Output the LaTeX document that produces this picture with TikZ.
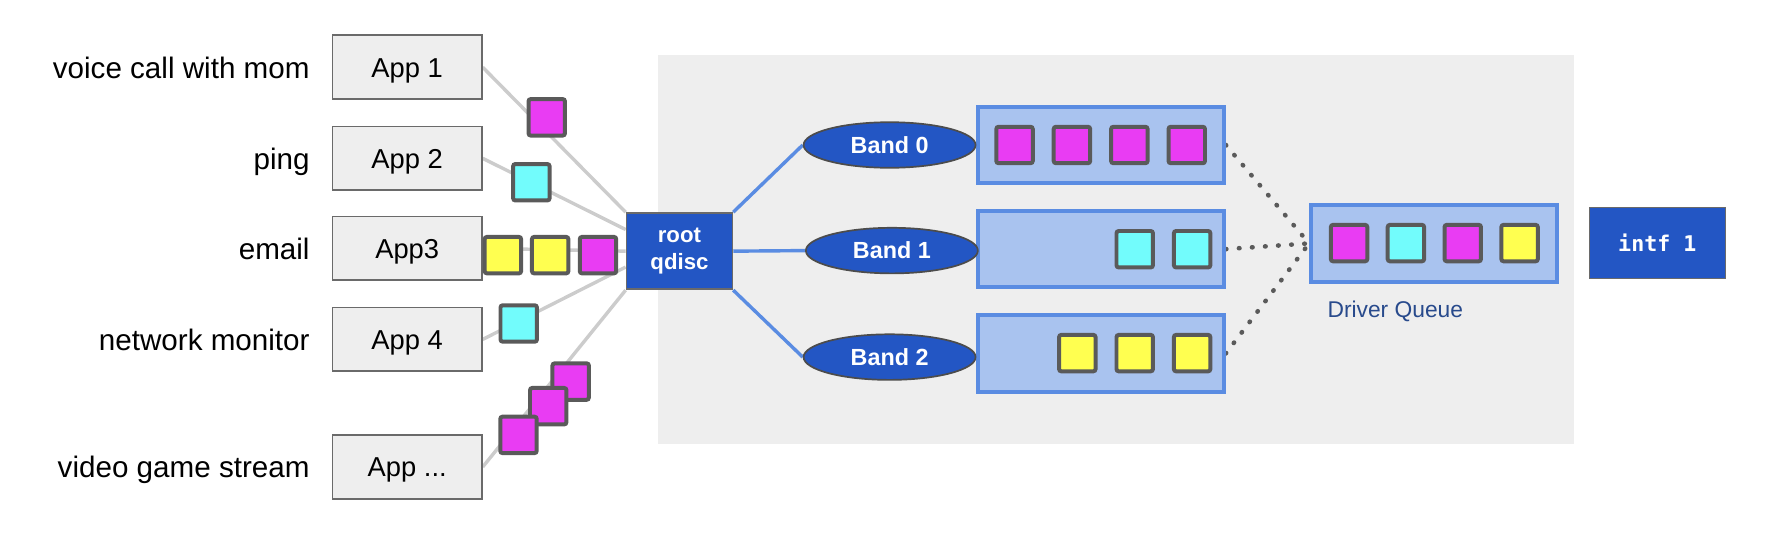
\documentclass[tikz,border=0pt]{standalone}
\usepackage{fontspec}
\setmainfont{Liberation Sans}
\newfontfamily\intffont{DejaVu Sans Mono}
\usetikzlibrary{shapes.geometric,backgrounds,calc}

\definecolor{pmag}{HTML}{E93CF3}
\definecolor{pcyan}{HTML}{72FCFC}
\definecolor{pyel}{HTML}{FFFF50}
\definecolor{pktline}{HTML}{5A5A5A}
\definecolor{boxgray}{HTML}{EEEEEE}
\definecolor{boxline}{HTML}{6A6A6A}
\definecolor{bggray}{HTML}{EEEEEE}
\definecolor{qdblue}{HTML}{2356C4}
\definecolor{qfill}{HTML}{A9C3EF}
\definecolor{qline}{HTML}{5A8CE2}
\definecolor{wiregray}{HTML}{CCCCCC}
\definecolor{dotgray}{HTML}{5A5A5A}
\definecolor{dqtext}{HTML}{284A8C}

\tikzset{
  applabel/.style = {anchor=east, inner sep=0pt, text height=19pt, text depth=0pt,
                     font=\fontsize{26}{30}\selectfont},
  appbox/.style   = {draw=boxline, fill=boxgray, line width=1.5pt,
                     minimum width=131pt, minimum height=56pt,
                     text height=17.5pt, text depth=0pt,
                     font=\fontsize{24}{28}\selectfont},
  rootbox/.style  = {draw=boxline, fill=qdblue, line width=1.5pt, text=white,
                     minimum width=93pt, minimum height=67pt, align=center,
                     font=\bfseries\fontsize{19.5}{23.5}\selectfont},
  band/.style     = {ellipse, draw=black!70, fill=qdblue, line width=1.5pt,
                     text=white, inner sep=0pt,
                     minimum width=151pt, minimum height=40pt,
                     font=\bfseries\fontsize{20.5}{24}\selectfont},
  queue/.style    = {draw=qline, fill=qfill, line width=3.4pt,
                     minimum width=216pt, minimum height=67pt, inner sep=0pt},
  pkt/.style      = {draw=pktline, line width=3.5pt, rounded corners=2pt,
                     minimum size=32pt, inner sep=0pt},
  magpkt/.style   = {pkt, fill=pmag},
  cyanpkt/.style  = {pkt, fill=pcyan},
  yelpkt/.style   = {pkt, fill=pyel},
  intfbox/.style  = {draw=boxline, fill=qdblue, line width=1pt, text=white,
                     minimum width=119pt, minimum height=62pt,
                     font=\intffont\bfseries\fontsize{19}{22}\selectfont},
  dqlabel/.style  = {text=dqtext, inner sep=0pt, font=\fontsize{20}{24}\selectfont},
  wire/.style     = {draw=wiregray, line width=3pt},
  bluewire/.style = {draw=qline, line width=3pt},
  dotwire/.style  = {draw=dotgray, line width=4pt, line cap=round,
                     dash pattern=on 0.5pt off 11pt}
}

\begin{document}
\begin{tikzpicture}[x=1pt, y=-1pt]
\useasboundingbox (0,0) rectangle (1568,488);
\begin{scope}[on background layer]
  \fill[bggray] (578,48) rectangle (1382,390);
\end{scope}

\node[applabel] (lvoice) at (272,59) {voice call with mom};
\node[applabel] (lping) at (272,139) {ping};
\node[applabel] (lmail) at (272,218) {email};
\node[applabel] (lmon) at (272,298) {network monitor};
\node[applabel] (lgame) at (272,410) {video game stream};

\node[appbox] (app1) at (357.5,59) {App 1};
\node[appbox] (app2) at (357.5,139) {App 2};
\node[appbox] (app3) at (357.5,218) {App3};
\node[appbox] (app4) at (357.5,298) {App 4};
\node[appbox] (appn) at (357.5,410) {App ...};

\node[rootbox] (root) at (596.5,220.5) {root\\qdisc};

\node[queue] (q0) at (966.5,127.3) {};
\node[queue] (q1) at (966.5,218.7) {};
\node[queue] (q2) at (966.5,310.3) {};

\node[band] (b0) at (781,127.3) {Band 0};
\node[band] (b1) at (783,220) {Band 1};
\node[band] (b2) at (781,313.5) {Band 2};

\node[magpkt] (q0a) at (890.7,127.3) {};
\node[magpkt] (q0b) at (941.1,127.3) {};
\node[magpkt] (q0c) at (991.5,127.3) {};
\node[magpkt] (q0d) at (1041.9,127.3) {};

\node[cyanpkt] (q1a) at (996.2,218.8) {};
\node[cyanpkt] (q1b) at (1046.6,218.8) {};

\node[yelpkt] (q2a) at (945.8,310) {};
\node[yelpkt] (q2b) at (996.2,310) {};
\node[yelpkt] (q2c) at (1046.6,310) {};

\node[queue] (dq) at (1259,213.7) {};
\node[magpkt] (dqa) at (1184.4,213.4) {};
\node[cyanpkt] (dqb) at (1234.3,213.4) {};
\node[magpkt] (dqc) at (1284.2,213.4) {};
\node[yelpkt] (dqd) at (1334.1,213.4) {};
\node[dqlabel] (dqname) at (1225,273) {Driver Queue};

\node[intfbox] (intf) at (1455,213.5) {intf 1};

\node[magpkt] (s1) at (480,103) {};
\node[cyanpkt] (s2) at (466.5,160) {};
\node[yelpkt] (s3a) at (441.5,224) {};
\node[yelpkt] (s3b) at (483,224) {};
\node[magpkt] (s3c) at (525,224) {};
\node[cyanpkt] (s4) at (455.4,284) {};
\node[magpkt] (s5a) at (501,335) {};
\node[magpkt] (s5b) at (481.3,356.6) {};
\node[magpkt] (s5c) at (455.2,381.8) {};

\begin{scope}[on background layer]
  \draw[wire] (app1.east) -- (root.north west);
  \draw[wire] (app2.east) -- ($(root.west)+(0,-19)$);
  \draw[wire] (app3.east) -- (root.west);
  \draw[wire] (app4.east) -- ($(root.west)+(0,14)$);
  \draw[wire] (appn.east) -- (root.south west);
  \draw[bluewire] (root.north east) -- (b0.west);
  \draw[bluewire] (root.east) -- (b1.west);
  \draw[bluewire] (root.south east) -- (b2.west);
  \draw[dotwire] (q0.east) -- (dq.west);
  \draw[dotwire] (q1.east) -- (dq.west);
  \draw[dotwire] (q2.east) -- (dq.west);
\end{scope}
\end{tikzpicture}
\end{document}
